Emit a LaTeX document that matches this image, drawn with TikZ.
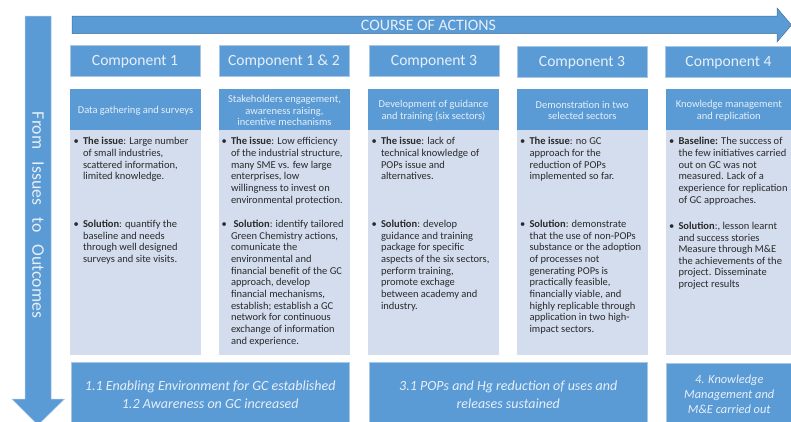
\documentclass[tikz,border=0pt]{standalone}
\usepackage{fontspec}
\setmainfont{Carlito}
\definecolor{bluefill}{HTML}{5B9BD5}
\definecolor{blueedge}{HTML}{41719C}
\definecolor{paleedge}{HTML}{A9C8E6}
\definecolor{bodyfill}{HTML}{D3DDEE}
\definecolor{bodytext}{HTML}{2A2A2A}
\definecolor{headtext}{HTML}{E6EFF8}
\newcommand{\bx}[7]{%
  \pgfmathsetmacro{\bw}{#4-#2}\pgfmathsetmacro{\bh}{#5-#3}%
  \pgfmathsetmacro{\bcx}{(#4+#2)/2}\pgfmathsetmacro{\bcy}{(#5+#3)/2}%
  \node[#6,minimum width=\bw pt,minimum height=\bh pt] (#1) at (\bcx,\bcy) {#7};}
\newcommand{\blt}{\llap{•\hskip 4.2pt}}
\newcommand{\dn}[1]{\raisebox{-1pt}[\height][\depth]{#1}}
\tikzset{
  x=1pt,y=-1pt,
  basebox/.style={inner sep=0pt,outer sep=0pt,align=center},
  compbox/.style={basebox,fill=bluefill,draw=paleedge,line width=0.6pt,text=headtext,font=\fontsize{15.6}{18}\selectfont},
  headbox/.style={basebox,fill=bluefill,text=headtext,font=\fontsize{10.5}{11.7}\selectfont},
  bodybox/.style={basebox,fill=bodyfill},
  outbox/.style={basebox,fill=bluefill,draw=paleedge,line width=0.6pt,text=headtext,font=\fontsize{14}{17.3}\selectfont\itshape},
  outsmall/.style={outbox,font=\fontsize{12.4}{14.9}\selectfont\itshape},
  bodytxt/.style={inner sep=0pt,outer sep=0pt,anchor=north west,align=left,text=bodytext,font=\fontsize{10.5}{11.65}\selectfont},
  bigarrow/.style={fill=bluefill,draw=blueedge,line width=0.5pt},
}
\begin{document}
\begin{tikzpicture}
\useasboundingbox (0,0) rectangle (791,421);
\clip (0,0) rectangle (791,421);
\fill[white] (0,0) rectangle (791,421);
% arrows
\filldraw[bigarrow,draw=paleedge] (25,16) -- (51,16) -- (51,399) -- (64.5,399) -- (38,425) -- (12,399) -- (25,399) -- cycle;
\filldraw[bigarrow] (72,16) -- (777,16) -- (777,8) -- (791.5,25) -- (777,42) -- (777,33.5) -- (72,33.5) -- cycle;
\node[text=headtext,font=\fontsize{15.9}{17}\selectfont,inner sep=0pt] (course) at (428.5,25.5) {COURSE OF ACTIONS};
\node[text=headtext,rotate=-90,font=\fontsize{17.7}{19}\selectfont,inner sep=0pt] (from) at (38,215) {From\hspace{8.3pt} Issues\hspace{8.3pt} to\hspace{8.3pt} Outcomes};
% components
\bx{c1}{70}{45.5}{200}{76}{compbox}{\dn{Component 1}}
\bx{c2}{219}{45.5}{349}{76}{compbox}{\dn{Component 1 \& 2}}
\bx{c3}{369}{45.5}{499}{76}{compbox}{\dn{Component 3}}
\bx{c4}{517}{46}{647}{77}{compbox}{\dn{Component 3}}
\bx{c5}{665}{46}{792}{77}{compbox}{\dn{Component 4}}
% headers (extended under the bodies)
\bx{h1}{70}{89}{201}{132}{headbox}{Data gathering and surveys}
\bx{h2}{219}{89}{350}{132}{headbox}{Stakeholders engagement,\\awareness raising,\\incentive mechanisms}
\bx{h3}{368}{89}{499}{132}{headbox}{Development of guidance\\and training (six sectors)}
\bx{h4}{516.5}{89}{648}{132}{headbox}{Demonstration in two\\selected sectors}
\bx{h5}{665.5}{89}{792}{132}{headbox}{Knowledge management\\and replication}
% bodies
\bx{b1}{70}{130}{201}{355}{bodybox}{}
\bx{b2}{218.5}{130}{349.5}{355}{bodybox}{}
\bx{b3}{368}{130}{499}{355}{bodybox}{}
\bx{b4}{516.5}{130}{648}{355}{bodybox}{}
\bx{b5}{665.5}{130}{792}{355}{bodybox}{}
% outcomes
\bx{o1}{71.5}{362.5}{349}{427}{outbox}{1.1 Enabling Environment for GC established\\1.2 Awareness on GC increased}
\bx{o2}{369.5}{362.5}{647}{427}{outbox}{3.1 POPs and Hg reduction of uses and\\releases sustained}
\bx{o3}{666.5}{363}{792}{425.5}{outsmall}{4. Knowledge\\Management and\\M\&E carried out}
% body text
\node[bodytxt] (t1a) at (83,137.5) {\blt\textbf{The issue}: Large number\\of small industries,\\scattered information,\\limited knowledge.};
\node[bodytxt] (t1b) at (83,220.3) {\blt\textbf{Solution}: quantify the\\baseline and needs\\through well designed\\surveys and site visits.};
\node[bodytxt] (t2a) at (231,137.5) {\blt\textbf{The issue}: Low efficiency\\of the industrial structure,\\many SME vs. few large\\enterprises, low\\willingness to invest on\\environmental protection.};
\node[bodytxt] (t2b) at (231,220.3) {\blt\hspace{2.5pt}\textbf{Solution}: identify tailored\\Green Chemistry actions,\\comunicate the\\environmental and\\financial benefit of the GC\\approach, develop\\financial mechanisms,\\establish; establish a GC\\network for continuous\\exchange of information\\and experience.};
\node[bodytxt] (t3a) at (381,137.5) {\blt\textbf{The issue}: lack of\\technical knowledge of\\POPs issue and\\alternatives.};
\node[bodytxt] (t3b) at (381,220.3) {\blt\textbf{Solution}: develop\\guidance and training\\package for specific\\aspects of the six sectors,\\perform training,\\promote exchage\\between academy and\\industry.};
\node[bodytxt] (t4a) at (529.5,137.5) {\blt\textbf{The issue}: no GC\\approach for the\\reduction of POPs\\implemented so far.};
\node[bodytxt] (t4b) at (529.5,220.3) {\blt\textbf{Solution}: demonstrate\\that the use of non-POPs\\substance or the adoption\\of processes not\\generating POPs is\\practically feasible,\\financially viable, and\\highly replicable through\\application in two high-\\impact sectors.};
\node[bodytxt] (t5a) at (678.5,137.5) {\blt\textbf{Baseline:} The success of\\the few initiatives carried\\out on GC was not\\measured. Lack of a\\experience for replication\\of GC approaches.};
\node[bodytxt] (t5b) at (678.5,222) {\blt\textbf{Solution}:, lesson learnt\\and success stories\\Measure through M\&E\\the achievements of the\\project. Disseminate\\project results};
\end{tikzpicture}
\end{document}
